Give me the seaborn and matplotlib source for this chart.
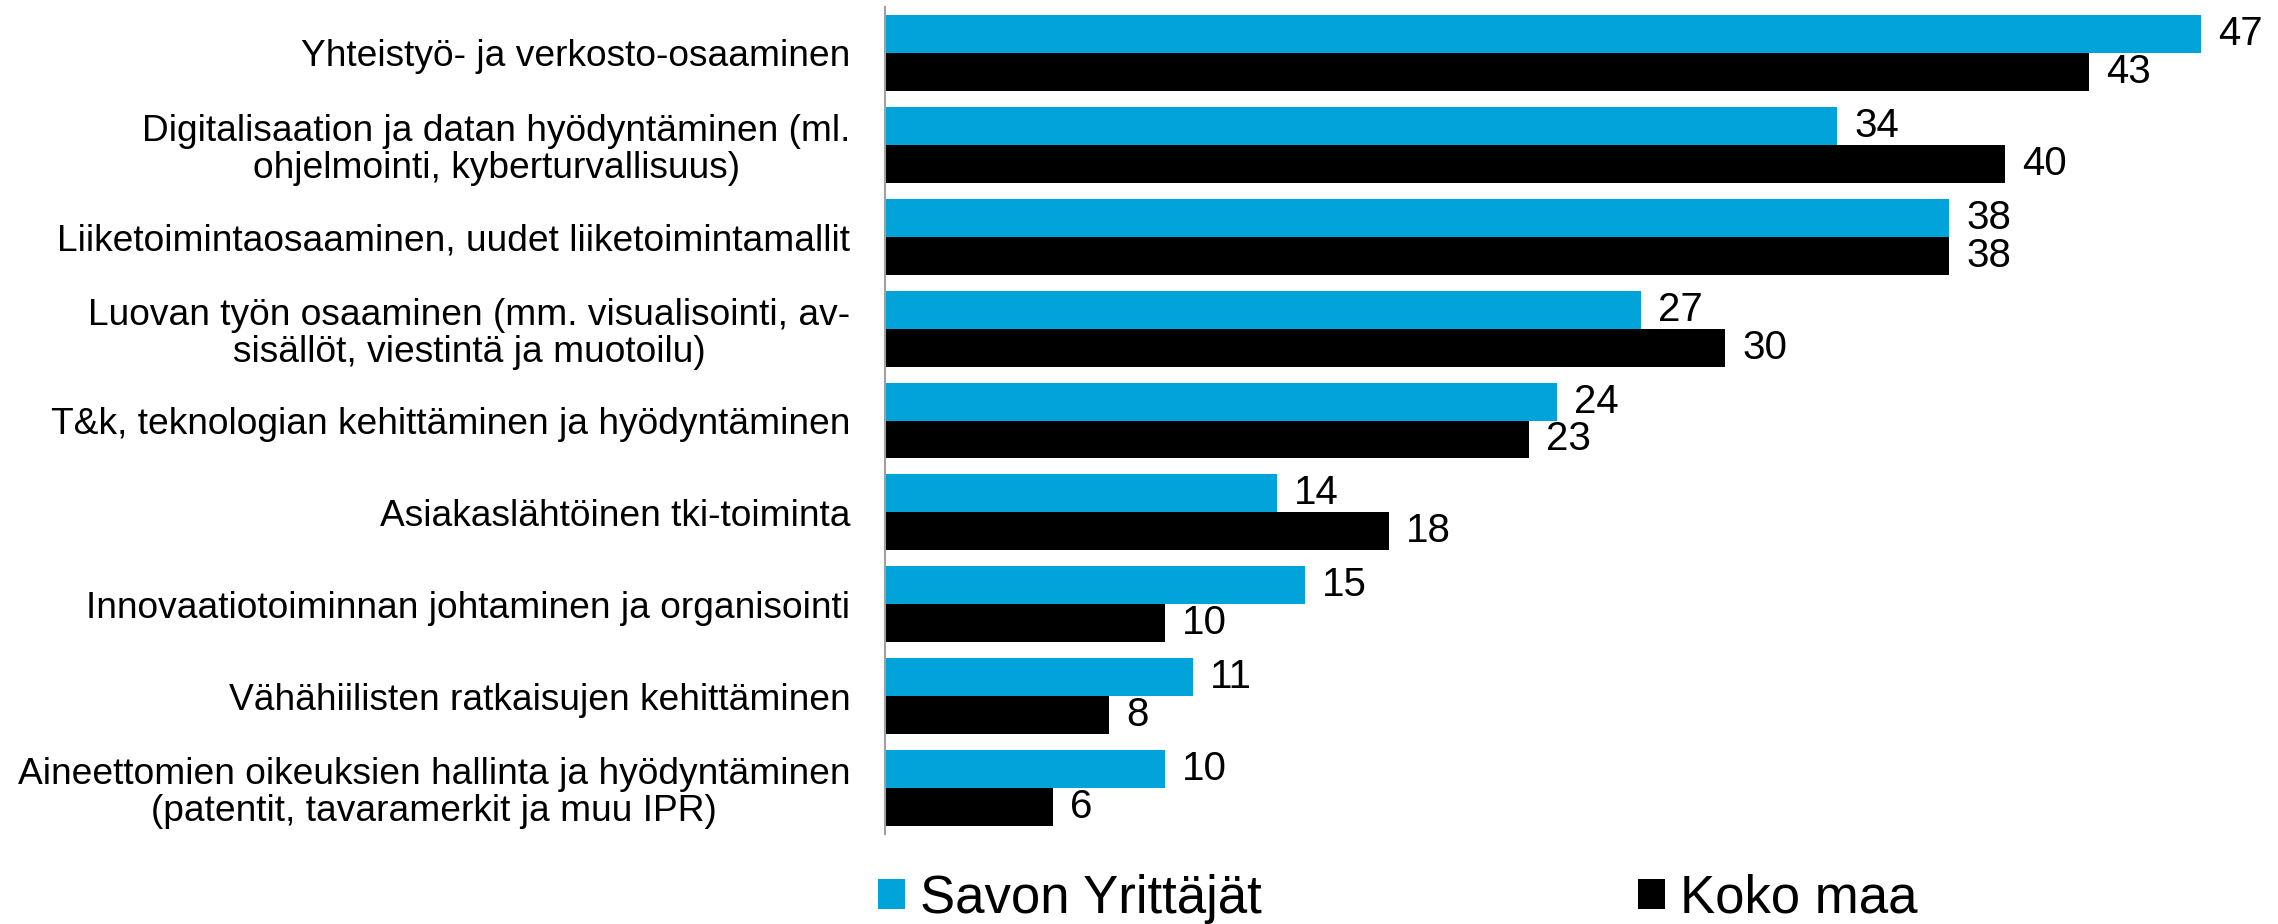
import matplotlib
matplotlib.use("Agg")
import matplotlib.pyplot as plt
import seaborn as sns
import pandas as pd
from matplotlib.patches import Patch

categories = [
    "Yhteistyö- ja verkosto-osaaminen",
    "Digitalisaation ja datan hyödyntäminen (ml.\nohjelmointi, kyberturvallisuus)",
    "Liiketoimintaosaaminen, uudet liiketoimintamallit",
    "Luovan työn osaaminen (mm. visualisointi, av-\nsisällöt, viestintä ja muotoilu)",
    "T&k, teknologian kehittäminen ja hyödyntäminen",
    "Asiakaslähtöinen tki-toiminta",
    "Innovaatiotoiminnan johtaminen ja organisointi",
    "Vähähiilisten ratkaisujen kehittäminen",
    "Aineettomien oikeuksien hallinta ja hyödyntäminen\n(patentit, tavaramerkit ja muu IPR)",
]
savon = [47, 34, 38, 27, 24, 14, 15, 11, 10]
koko = [43, 40, 38, 30, 23, 18, 10, 8, 6]
series_names = ["Savon Yrittäjät", "Koko maa"]
colors = ["#00A4DB", "#000000"]

sns.set_theme(style="white")
plt.rcParams["font.family"] = ["Liberation Sans", "DejaVu Sans"]
plt.rcParams["text.color"] = "black"
plt.rcParams["ytick.color"] = "black"
plt.rcParams["ytick.labelcolor"] = "black"

df = pd.DataFrame({
    "cat": categories * 2,
    "value": savon + koko,
    "series": [series_names[0]] * len(categories) + [series_names[1]] * len(categories),
})

W, H = 2278, 924
fig = plt.figure(figsize=(W / 100, H / 100), dpi=100)
ax_left, ax_right = 885 / W, 1.0
ax_top, ax_bot = 1 - 7 / H, 1 - 834 / H
ax = fig.add_axes([ax_left, ax_bot, ax_right - ax_left, ax_top - ax_bot])

sns.barplot(data=df, y="cat", x="value", hue="series", hue_order=series_names,
            palette=colors, orient="h", width=0.826, ax=ax, legend=False,
            saturation=1, linewidth=0, errorbar=None)

ax.set_xlim(0, (W - 885) / 28.0)
ax.set_ylim(len(categories) - 0.5, -0.5)
for c in ax.containers:
    ax.bar_label(c, labels=[f"{v:.0f}" for v in c.datavalues], padding=12.5,
                 fontsize=29, color="black")

ax.set_xlabel("")
ax.set_ylabel("")
ax.set_xticks([])
ax.tick_params(axis="y", length=0, pad=25, labelsize=26.7, labelcolor="black")
for t in ax.get_yticklabels():
    t.set_multialignment("center")
    t.set_linespacing(1.07)
for s in ["top", "right", "bottom"]:
    ax.spines[s].set_visible(False)
ax.spines["left"].set_color("#A0A0A0")
ax.spines["left"].set_linewidth(1.5)

handles = [Patch(facecolor=colors[0], edgecolor="none"),
           Patch(facecolor=colors[1], edgecolor="none")]
fig.legend(handles, series_names, loc="center left",
           bbox_to_anchor=(878 / W, 1 - 898.5 / H), ncol=2, frameon=False,
           fontsize=38, handlelength=0.51, handleheight=0.51,
           handletextpad=0.28, columnspacing=7.14, borderpad=0, borderaxespad=0,
           labelcolor="black")

fig.savefig("out.png", dpi=100)
